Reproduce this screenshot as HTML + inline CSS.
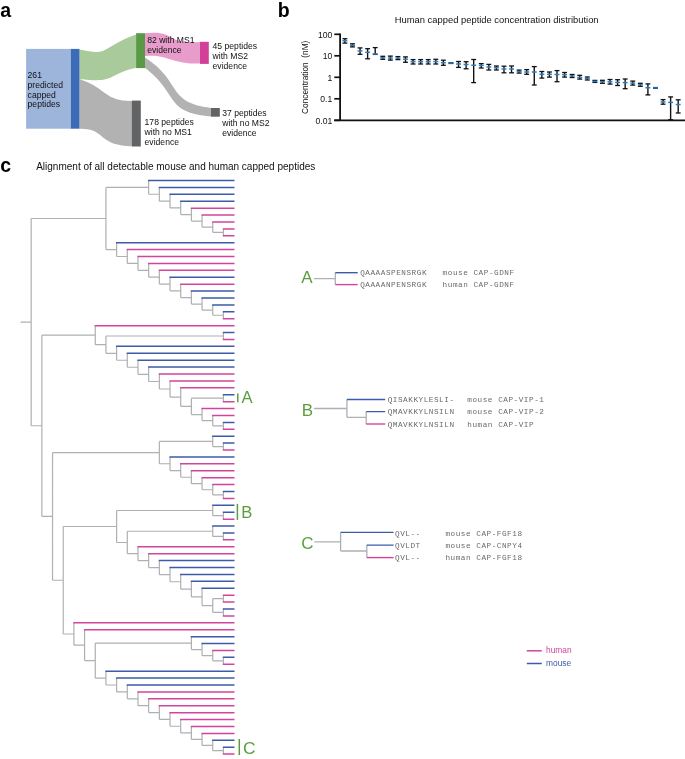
<!DOCTYPE html>
<html><head><meta charset="utf-8"><title>figure</title>
<style>
html,body{margin:0;padding:0;background:#fff;}
body{width:685px;height:759px;overflow:hidden;}
svg{display:block;font-family:"Liberation Sans", sans-serif;will-change:transform;opacity:0.999;}
</style></head><body>
<svg width="685" height="759" viewBox="0 0 685 759">
<rect width="685" height="759" fill="#fff"/>
<path d="M79.5,49.6 C110.54,56.53 99.9,47.54 136.2,34.5 L136.2,67.8 C106.85,74.29 116.16,83.81 79.5,78.9 Z" fill="#a9cb9b"/>
<path d="M79.5,78.9 C108.42,89.11 103.82,100.72 132.0,100.9 L132.0,146.3 C96.33,145.44 106.49,128.19 79.5,128.8 Z" fill="#b1b2b1"/>
<path d="M144.9,33.3 C176.76,29.6 163.19,44.02 200.1,42 L200.1,63.6 C170.99,63.93 166.18,53.58 144.9,56.0 Z" fill="#e89ccb"/>
<path d="M144.9,57.6 C182.55,81.7 166.0,102.66 211.1,108 L211.1,116.6 C163.72,112.1 179.74,94.62 144.9,67.8 Z" fill="#b1b2b1"/>
<rect x="26.1" y="48.9" width="44.70" height="79.80" fill="#9db4db"/>
<rect x="70.8" y="48.9" width="8.70" height="79.80" fill="#3b6cb5"/>
<rect x="136.1" y="33.2" width="8.90" height="34.90" fill="#5a9a45"/>
<rect x="200.0" y="41.8" width="8.80" height="22.10" fill="#d2409a"/>
<rect x="131.9" y="100.6" width="8.90" height="45.90" fill="#626365"/>
<rect x="211.0" y="108.0" width="8.80" height="8.70" fill="#626365"/>
<text x="27.6" y="77.6" font-size="8.6" fill="#111"><tspan x="27.6" y="77.60">261</tspan><tspan x="27.6" y="87.55">predicted</tspan><tspan x="27.6" y="97.50">capped</tspan><tspan x="27.6" y="107.45">peptides</tspan></text>
<text x="147.2" y="42.6" font-size="8.6" fill="#111"><tspan x="147.2" y="42.60">82 with MS1</tspan><tspan x="147.2" y="52.60">evidence</tspan></text>
<text x="212.6" y="48.6" font-size="8.6" fill="#111"><tspan x="212.6" y="48.60">45 peptides</tspan><tspan x="212.6" y="58.80">with MS2</tspan><tspan x="212.6" y="69.00">evidence</tspan></text>
<text x="144.6" y="125.0" font-size="8.6" fill="#111"><tspan x="144.6" y="125.00">178 peptides</tspan><tspan x="144.6" y="135.20">with no MS1</tspan><tspan x="144.6" y="145.40">evidence</tspan></text>
<text x="222.2" y="115.6" font-size="8.6" fill="#111"><tspan x="222.2" y="115.60">37 peptides</tspan><tspan x="222.2" y="125.80">with no MS2</tspan><tspan x="222.2" y="136.00">evidence</tspan></text>
<text x="0.2" y="16.6" font-size="19.5" font-weight="bold" fill="#000">a</text>
<text x="277.8" y="16.6" font-size="19.5" font-weight="bold" fill="#000">b</text>
<text x="0.2" y="171.8" font-size="19.5" font-weight="bold" fill="#000">c</text>
<text x="496.7" y="23.3" font-size="9.4" text-anchor="middle" fill="#111">Human capped peptide concentration distribution</text>
<line x1="334.3" y1="34.3" x2="340.1" y2="34.3" stroke="#111" stroke-width="1.7"/>
<text x="332.3" y="37.70" font-size="8.6" text-anchor="end" fill="#111">100</text>
<line x1="334.3" y1="55.8" x2="340.1" y2="55.8" stroke="#111" stroke-width="1.7"/>
<text x="332.3" y="59.20" font-size="8.6" text-anchor="end" fill="#111">10</text>
<line x1="334.3" y1="77.3" x2="340.1" y2="77.3" stroke="#111" stroke-width="1.7"/>
<text x="332.3" y="80.70" font-size="8.6" text-anchor="end" fill="#111">1</text>
<line x1="334.3" y1="98.8" x2="340.1" y2="98.8" stroke="#111" stroke-width="1.7"/>
<text x="332.3" y="102.20" font-size="8.6" text-anchor="end" fill="#111">0.1</text>
<line x1="334.3" y1="120.3" x2="340.1" y2="120.3" stroke="#111" stroke-width="1.7"/>
<text x="332.3" y="123.70" font-size="8.6" text-anchor="end" fill="#111">0.01</text>
<line x1="340.1" y1="33.5" x2="340.1" y2="121" stroke="#111" stroke-width="1.8"/>
<line x1="334.3" y1="120.3" x2="685" y2="120.3" stroke="#111" stroke-width="1.8"/>
<text transform="translate(307.9,77.3) rotate(-90)" font-size="8.3" text-anchor="middle" fill="#111">Concentration&#160; (nM)</text>
<line x1="344.90" y1="38.7" x2="344.90" y2="43.1" stroke="#111" stroke-width="1.4"/>
<line x1="342.45" y1="38.7" x2="347.35" y2="38.7" stroke="#111" stroke-width="1.3"/>
<line x1="342.45" y1="43.1" x2="347.35" y2="43.1" stroke="#111" stroke-width="1.3"/>
<line x1="342.45" y1="40.7" x2="347.35" y2="40.7" stroke="#2a7dc4" stroke-width="1.5"/>
<line x1="352.47" y1="43.8" x2="352.47" y2="46.9" stroke="#111" stroke-width="1.4"/>
<line x1="350.02" y1="43.8" x2="354.92" y2="43.8" stroke="#111" stroke-width="1.3"/>
<line x1="350.02" y1="46.9" x2="354.92" y2="46.9" stroke="#111" stroke-width="1.3"/>
<line x1="350.02" y1="45.3" x2="354.92" y2="45.3" stroke="#2a7dc4" stroke-width="1.5"/>
<line x1="360.05" y1="47.9" x2="360.05" y2="54.3" stroke="#111" stroke-width="1.4"/>
<line x1="357.60" y1="47.9" x2="362.50" y2="47.9" stroke="#111" stroke-width="1.3"/>
<line x1="357.60" y1="54.3" x2="362.50" y2="54.3" stroke="#111" stroke-width="1.3"/>
<line x1="357.60" y1="50.9" x2="362.50" y2="50.9" stroke="#2a7dc4" stroke-width="1.5"/>
<line x1="367.62" y1="48.7" x2="367.62" y2="58.8" stroke="#111" stroke-width="1.4"/>
<line x1="365.18" y1="48.7" x2="370.07" y2="48.7" stroke="#111" stroke-width="1.3"/>
<line x1="365.18" y1="58.8" x2="370.07" y2="58.8" stroke="#111" stroke-width="1.3"/>
<line x1="365.18" y1="52.3" x2="370.07" y2="52.3" stroke="#2a7dc4" stroke-width="1.5"/>
<line x1="375.20" y1="47.6" x2="375.20" y2="54.4" stroke="#111" stroke-width="1.4"/>
<line x1="372.75" y1="47.6" x2="377.65" y2="47.6" stroke="#111" stroke-width="1.3"/>
<line x1="372.75" y1="54.4" x2="377.65" y2="54.4" stroke="#111" stroke-width="1.3"/>
<line x1="372.75" y1="54.0" x2="377.65" y2="54.0" stroke="#2a7dc4" stroke-width="1.5"/>
<line x1="382.77" y1="56.3" x2="382.77" y2="59.3" stroke="#111" stroke-width="1.4"/>
<line x1="380.32" y1="56.3" x2="385.22" y2="56.3" stroke="#111" stroke-width="1.3"/>
<line x1="380.32" y1="59.3" x2="385.22" y2="59.3" stroke="#111" stroke-width="1.3"/>
<line x1="380.32" y1="57.8" x2="385.22" y2="57.8" stroke="#2a7dc4" stroke-width="1.5"/>
<line x1="390.35" y1="56.1" x2="390.35" y2="60.1" stroke="#111" stroke-width="1.4"/>
<line x1="387.90" y1="56.1" x2="392.80" y2="56.1" stroke="#111" stroke-width="1.3"/>
<line x1="387.90" y1="60.1" x2="392.80" y2="60.1" stroke="#111" stroke-width="1.3"/>
<line x1="387.90" y1="58.1" x2="392.80" y2="58.1" stroke="#2a7dc4" stroke-width="1.5"/>
<line x1="397.92" y1="56.6" x2="397.92" y2="59.6" stroke="#111" stroke-width="1.4"/>
<line x1="395.47" y1="56.6" x2="400.37" y2="56.6" stroke="#111" stroke-width="1.3"/>
<line x1="395.47" y1="59.6" x2="400.37" y2="59.6" stroke="#111" stroke-width="1.3"/>
<line x1="395.47" y1="58.1" x2="400.37" y2="58.1" stroke="#2a7dc4" stroke-width="1.5"/>
<line x1="405.50" y1="56.9" x2="405.50" y2="62.3" stroke="#111" stroke-width="1.4"/>
<line x1="403.05" y1="56.9" x2="407.95" y2="56.9" stroke="#111" stroke-width="1.3"/>
<line x1="403.05" y1="62.3" x2="407.95" y2="62.3" stroke="#111" stroke-width="1.3"/>
<line x1="403.05" y1="59.2" x2="407.95" y2="59.2" stroke="#2a7dc4" stroke-width="1.5"/>
<line x1="413.07" y1="59.6" x2="413.07" y2="64.0" stroke="#111" stroke-width="1.4"/>
<line x1="410.62" y1="59.6" x2="415.52" y2="59.6" stroke="#111" stroke-width="1.3"/>
<line x1="410.62" y1="64.0" x2="415.52" y2="64.0" stroke="#111" stroke-width="1.3"/>
<line x1="410.62" y1="61.7" x2="415.52" y2="61.7" stroke="#2a7dc4" stroke-width="1.5"/>
<line x1="420.65" y1="59.6" x2="420.65" y2="64.0" stroke="#111" stroke-width="1.4"/>
<line x1="418.20" y1="59.6" x2="423.10" y2="59.6" stroke="#111" stroke-width="1.3"/>
<line x1="418.20" y1="64.0" x2="423.10" y2="64.0" stroke="#111" stroke-width="1.3"/>
<line x1="418.20" y1="61.7" x2="423.10" y2="61.7" stroke="#2a7dc4" stroke-width="1.5"/>
<line x1="428.22" y1="59.6" x2="428.22" y2="64.0" stroke="#111" stroke-width="1.4"/>
<line x1="425.77" y1="59.6" x2="430.67" y2="59.6" stroke="#111" stroke-width="1.3"/>
<line x1="425.77" y1="64.0" x2="430.67" y2="64.0" stroke="#111" stroke-width="1.3"/>
<line x1="425.77" y1="61.7" x2="430.67" y2="61.7" stroke="#2a7dc4" stroke-width="1.5"/>
<line x1="435.80" y1="59.3" x2="435.80" y2="64.0" stroke="#111" stroke-width="1.4"/>
<line x1="433.35" y1="59.3" x2="438.25" y2="59.3" stroke="#111" stroke-width="1.3"/>
<line x1="433.35" y1="64.0" x2="438.25" y2="64.0" stroke="#111" stroke-width="1.3"/>
<line x1="433.35" y1="61.5" x2="438.25" y2="61.5" stroke="#2a7dc4" stroke-width="1.5"/>
<line x1="443.38" y1="60.2" x2="443.38" y2="65.3" stroke="#111" stroke-width="1.4"/>
<line x1="440.93" y1="60.2" x2="445.82" y2="60.2" stroke="#111" stroke-width="1.3"/>
<line x1="440.93" y1="65.3" x2="445.82" y2="65.3" stroke="#111" stroke-width="1.3"/>
<line x1="440.93" y1="62.7" x2="445.82" y2="62.7" stroke="#2a7dc4" stroke-width="1.5"/>
<line x1="448.50" y1="63.1" x2="453.40" y2="63.1" stroke="#111" stroke-width="2.0"/>
<line x1="448.50" y1="63.1" x2="453.40" y2="63.1" stroke="#2a7dc4" stroke-width="1.5"/>
<line x1="458.52" y1="61.5" x2="458.52" y2="67.4" stroke="#111" stroke-width="1.4"/>
<line x1="456.07" y1="61.5" x2="460.97" y2="61.5" stroke="#111" stroke-width="1.3"/>
<line x1="456.07" y1="67.4" x2="460.97" y2="67.4" stroke="#111" stroke-width="1.3"/>
<line x1="456.07" y1="64.0" x2="460.97" y2="64.0" stroke="#2a7dc4" stroke-width="1.5"/>
<line x1="466.10" y1="61.7" x2="466.10" y2="68.8" stroke="#111" stroke-width="1.4"/>
<line x1="463.65" y1="61.7" x2="468.55" y2="61.7" stroke="#111" stroke-width="1.3"/>
<line x1="463.65" y1="68.8" x2="468.55" y2="68.8" stroke="#111" stroke-width="1.3"/>
<line x1="463.65" y1="64.5" x2="468.55" y2="64.5" stroke="#2a7dc4" stroke-width="1.5"/>
<line x1="473.67" y1="59.5" x2="473.67" y2="82.6" stroke="#111" stroke-width="1.4"/>
<line x1="471.22" y1="59.5" x2="476.12" y2="59.5" stroke="#111" stroke-width="1.3"/>
<line x1="471.22" y1="82.6" x2="476.12" y2="82.6" stroke="#111" stroke-width="1.3"/>
<line x1="471.22" y1="65.2" x2="476.12" y2="65.2" stroke="#2a7dc4" stroke-width="1.5"/>
<line x1="481.25" y1="63.6" x2="481.25" y2="68.0" stroke="#111" stroke-width="1.4"/>
<line x1="478.80" y1="63.6" x2="483.70" y2="63.6" stroke="#111" stroke-width="1.3"/>
<line x1="478.80" y1="68.0" x2="483.70" y2="68.0" stroke="#111" stroke-width="1.3"/>
<line x1="478.80" y1="65.4" x2="483.70" y2="65.4" stroke="#2a7dc4" stroke-width="1.5"/>
<line x1="488.82" y1="64.4" x2="488.82" y2="70.0" stroke="#111" stroke-width="1.4"/>
<line x1="486.38" y1="64.4" x2="491.27" y2="64.4" stroke="#111" stroke-width="1.3"/>
<line x1="486.38" y1="70.0" x2="491.27" y2="70.0" stroke="#111" stroke-width="1.3"/>
<line x1="486.38" y1="67.0" x2="491.27" y2="67.0" stroke="#2a7dc4" stroke-width="1.5"/>
<line x1="496.40" y1="66.0" x2="496.40" y2="70.0" stroke="#111" stroke-width="1.4"/>
<line x1="493.95" y1="66.0" x2="498.85" y2="66.0" stroke="#111" stroke-width="1.3"/>
<line x1="493.95" y1="70.0" x2="498.85" y2="70.0" stroke="#111" stroke-width="1.3"/>
<line x1="493.95" y1="67.7" x2="498.85" y2="67.7" stroke="#2a7dc4" stroke-width="1.5"/>
<line x1="503.98" y1="66.2" x2="503.98" y2="72.8" stroke="#111" stroke-width="1.4"/>
<line x1="501.53" y1="66.2" x2="506.43" y2="66.2" stroke="#111" stroke-width="1.3"/>
<line x1="501.53" y1="72.8" x2="506.43" y2="72.8" stroke="#111" stroke-width="1.3"/>
<line x1="501.53" y1="69.0" x2="506.43" y2="69.0" stroke="#2a7dc4" stroke-width="1.5"/>
<line x1="511.55" y1="66.0" x2="511.55" y2="72.8" stroke="#111" stroke-width="1.4"/>
<line x1="509.10" y1="66.0" x2="514.00" y2="66.0" stroke="#111" stroke-width="1.3"/>
<line x1="509.10" y1="72.8" x2="514.00" y2="72.8" stroke="#111" stroke-width="1.3"/>
<line x1="509.10" y1="69.0" x2="514.00" y2="69.0" stroke="#2a7dc4" stroke-width="1.5"/>
<line x1="519.12" y1="70.1" x2="519.12" y2="73.1" stroke="#111" stroke-width="1.4"/>
<line x1="516.67" y1="70.1" x2="521.58" y2="70.1" stroke="#111" stroke-width="1.3"/>
<line x1="516.67" y1="73.1" x2="521.58" y2="73.1" stroke="#111" stroke-width="1.3"/>
<line x1="516.67" y1="71.6" x2="521.58" y2="71.6" stroke="#2a7dc4" stroke-width="1.5"/>
<line x1="526.70" y1="69.6" x2="526.70" y2="74.3" stroke="#111" stroke-width="1.4"/>
<line x1="524.25" y1="69.6" x2="529.15" y2="69.6" stroke="#111" stroke-width="1.3"/>
<line x1="524.25" y1="74.3" x2="529.15" y2="74.3" stroke="#111" stroke-width="1.3"/>
<line x1="524.25" y1="72.0" x2="529.15" y2="72.0" stroke="#2a7dc4" stroke-width="1.5"/>
<line x1="534.27" y1="66.6" x2="534.27" y2="85.0" stroke="#111" stroke-width="1.4"/>
<line x1="531.82" y1="66.6" x2="536.73" y2="66.6" stroke="#111" stroke-width="1.3"/>
<line x1="531.82" y1="85.0" x2="536.73" y2="85.0" stroke="#111" stroke-width="1.3"/>
<line x1="531.82" y1="72.0" x2="536.73" y2="72.0" stroke="#2a7dc4" stroke-width="1.5"/>
<line x1="541.85" y1="71.5" x2="541.85" y2="78.1" stroke="#111" stroke-width="1.4"/>
<line x1="539.40" y1="71.5" x2="544.30" y2="71.5" stroke="#111" stroke-width="1.3"/>
<line x1="539.40" y1="78.1" x2="544.30" y2="78.1" stroke="#111" stroke-width="1.3"/>
<line x1="539.40" y1="74.3" x2="544.30" y2="74.3" stroke="#2a7dc4" stroke-width="1.5"/>
<line x1="549.42" y1="72.0" x2="549.42" y2="77.1" stroke="#111" stroke-width="1.4"/>
<line x1="546.97" y1="72.0" x2="551.88" y2="72.0" stroke="#111" stroke-width="1.3"/>
<line x1="546.97" y1="77.1" x2="551.88" y2="77.1" stroke="#111" stroke-width="1.3"/>
<line x1="546.97" y1="74.3" x2="551.88" y2="74.3" stroke="#2a7dc4" stroke-width="1.5"/>
<line x1="557.00" y1="70.6" x2="557.00" y2="81.7" stroke="#111" stroke-width="1.4"/>
<line x1="554.55" y1="70.6" x2="559.45" y2="70.6" stroke="#111" stroke-width="1.3"/>
<line x1="554.55" y1="81.7" x2="559.45" y2="81.7" stroke="#111" stroke-width="1.3"/>
<line x1="554.55" y1="74.5" x2="559.45" y2="74.5" stroke="#2a7dc4" stroke-width="1.5"/>
<line x1="564.58" y1="72.5" x2="564.58" y2="77.1" stroke="#111" stroke-width="1.4"/>
<line x1="562.12" y1="72.5" x2="567.03" y2="72.5" stroke="#111" stroke-width="1.3"/>
<line x1="562.12" y1="77.1" x2="567.03" y2="77.1" stroke="#111" stroke-width="1.3"/>
<line x1="562.12" y1="74.7" x2="567.03" y2="74.7" stroke="#2a7dc4" stroke-width="1.5"/>
<line x1="572.15" y1="74.5" x2="572.15" y2="77.5" stroke="#111" stroke-width="1.4"/>
<line x1="569.70" y1="74.5" x2="574.60" y2="74.5" stroke="#111" stroke-width="1.3"/>
<line x1="569.70" y1="77.5" x2="574.60" y2="77.5" stroke="#111" stroke-width="1.3"/>
<line x1="569.70" y1="76.0" x2="574.60" y2="76.0" stroke="#2a7dc4" stroke-width="1.5"/>
<line x1="579.73" y1="75.3" x2="579.73" y2="79.1" stroke="#111" stroke-width="1.4"/>
<line x1="577.27" y1="75.3" x2="582.18" y2="75.3" stroke="#111" stroke-width="1.3"/>
<line x1="577.27" y1="79.1" x2="582.18" y2="79.1" stroke="#111" stroke-width="1.3"/>
<line x1="577.27" y1="77.4" x2="582.18" y2="77.4" stroke="#2a7dc4" stroke-width="1.5"/>
<line x1="587.30" y1="77.0" x2="587.30" y2="80.0" stroke="#111" stroke-width="1.4"/>
<line x1="584.85" y1="77.0" x2="589.75" y2="77.0" stroke="#111" stroke-width="1.3"/>
<line x1="584.85" y1="80.0" x2="589.75" y2="80.0" stroke="#111" stroke-width="1.3"/>
<line x1="584.85" y1="78.5" x2="589.75" y2="78.5" stroke="#2a7dc4" stroke-width="1.5"/>
<line x1="594.88" y1="80.4" x2="594.88" y2="82.4" stroke="#111" stroke-width="1.4"/>
<line x1="592.42" y1="80.4" x2="597.33" y2="80.4" stroke="#111" stroke-width="1.3"/>
<line x1="592.42" y1="82.4" x2="597.33" y2="82.4" stroke="#111" stroke-width="1.3"/>
<line x1="592.42" y1="81.4" x2="597.33" y2="81.4" stroke="#2a7dc4" stroke-width="1.5"/>
<line x1="602.45" y1="80.3" x2="602.45" y2="83.3" stroke="#111" stroke-width="1.4"/>
<line x1="600.00" y1="80.3" x2="604.90" y2="80.3" stroke="#111" stroke-width="1.3"/>
<line x1="600.00" y1="83.3" x2="604.90" y2="83.3" stroke="#111" stroke-width="1.3"/>
<line x1="600.00" y1="81.8" x2="604.90" y2="81.8" stroke="#2a7dc4" stroke-width="1.5"/>
<line x1="610.02" y1="79.5" x2="610.02" y2="84.1" stroke="#111" stroke-width="1.4"/>
<line x1="607.57" y1="79.5" x2="612.48" y2="79.5" stroke="#111" stroke-width="1.3"/>
<line x1="607.57" y1="84.1" x2="612.48" y2="84.1" stroke="#111" stroke-width="1.3"/>
<line x1="607.57" y1="81.8" x2="612.48" y2="81.8" stroke="#2a7dc4" stroke-width="1.5"/>
<line x1="617.60" y1="79.7" x2="617.60" y2="85.5" stroke="#111" stroke-width="1.4"/>
<line x1="615.15" y1="79.7" x2="620.05" y2="79.7" stroke="#111" stroke-width="1.3"/>
<line x1="615.15" y1="85.5" x2="620.05" y2="85.5" stroke="#111" stroke-width="1.3"/>
<line x1="615.15" y1="82.4" x2="620.05" y2="82.4" stroke="#2a7dc4" stroke-width="1.5"/>
<line x1="625.17" y1="79.0" x2="625.17" y2="88.7" stroke="#111" stroke-width="1.4"/>
<line x1="622.72" y1="79.0" x2="627.62" y2="79.0" stroke="#111" stroke-width="1.3"/>
<line x1="622.72" y1="88.7" x2="627.62" y2="88.7" stroke="#111" stroke-width="1.3"/>
<line x1="622.72" y1="82.6" x2="627.62" y2="82.6" stroke="#2a7dc4" stroke-width="1.5"/>
<line x1="632.75" y1="81.1" x2="632.75" y2="85.1" stroke="#111" stroke-width="1.4"/>
<line x1="630.30" y1="81.1" x2="635.20" y2="81.1" stroke="#111" stroke-width="1.3"/>
<line x1="630.30" y1="85.1" x2="635.20" y2="85.1" stroke="#111" stroke-width="1.3"/>
<line x1="630.30" y1="83.1" x2="635.20" y2="83.1" stroke="#2a7dc4" stroke-width="1.5"/>
<line x1="640.33" y1="83.3" x2="640.33" y2="86.3" stroke="#111" stroke-width="1.4"/>
<line x1="637.88" y1="83.3" x2="642.78" y2="83.3" stroke="#111" stroke-width="1.3"/>
<line x1="637.88" y1="86.3" x2="642.78" y2="86.3" stroke="#111" stroke-width="1.3"/>
<line x1="637.88" y1="84.8" x2="642.78" y2="84.8" stroke="#2a7dc4" stroke-width="1.5"/>
<line x1="647.90" y1="83.9" x2="647.90" y2="94.9" stroke="#111" stroke-width="1.4"/>
<line x1="645.45" y1="83.9" x2="650.35" y2="83.9" stroke="#111" stroke-width="1.3"/>
<line x1="645.45" y1="94.9" x2="650.35" y2="94.9" stroke="#111" stroke-width="1.3"/>
<line x1="645.45" y1="87.7" x2="650.35" y2="87.7" stroke="#2a7dc4" stroke-width="1.5"/>
<line x1="653.02" y1="87.9" x2="657.92" y2="87.9" stroke="#111" stroke-width="2.0"/>
<line x1="653.02" y1="87.9" x2="657.92" y2="87.9" stroke="#2a7dc4" stroke-width="1.5"/>
<line x1="663.05" y1="99.6" x2="663.05" y2="104.2" stroke="#111" stroke-width="1.4"/>
<line x1="660.60" y1="99.6" x2="665.50" y2="99.6" stroke="#111" stroke-width="1.3"/>
<line x1="660.60" y1="104.2" x2="665.50" y2="104.2" stroke="#111" stroke-width="1.3"/>
<line x1="660.60" y1="101.9" x2="665.50" y2="101.9" stroke="#2a7dc4" stroke-width="1.5"/>
<line x1="670.62" y1="96.9" x2="670.62" y2="119.7" stroke="#111" stroke-width="1.4"/>
<line x1="668.17" y1="96.9" x2="673.08" y2="96.9" stroke="#111" stroke-width="1.3"/>
<line x1="668.17" y1="119.7" x2="673.08" y2="119.7" stroke="#111" stroke-width="1.3"/>
<line x1="668.17" y1="102.4" x2="673.08" y2="102.4" stroke="#2a7dc4" stroke-width="1.5"/>
<line x1="678.20" y1="99.8" x2="678.20" y2="113.0" stroke="#111" stroke-width="1.4"/>
<line x1="675.75" y1="99.8" x2="680.65" y2="99.8" stroke="#111" stroke-width="1.3"/>
<line x1="675.75" y1="113.0" x2="680.65" y2="113.0" stroke="#111" stroke-width="1.3"/>
<line x1="675.75" y1="104.5" x2="680.65" y2="104.5" stroke="#2a7dc4" stroke-width="1.5"/>
<text x="36.2" y="169.6" font-size="10" fill="#111">Alignment of all detectable mouse and human capped peptides</text>
<path d="M223.42,228.88V235.79M212.74,221.97V232.33M212.74,232.33H223.42M202.06,215.06V227.15M202.06,227.15H212.74M191.38,208.14V221.10M191.38,221.10H202.06M180.70,201.23V214.62M180.70,214.62H191.38M170.02,194.32V207.93M170.02,207.93H180.70M159.34,187.41V201.13M159.34,201.13H170.02M148.66,180.50V194.27M148.66,194.27H159.34M223.42,311.81V318.72M212.74,304.90V315.26M212.74,315.26H223.42M202.06,297.99V310.08M202.06,310.08H212.74M191.38,291.08V304.03M191.38,304.03H202.06M180.70,284.16V297.56M180.70,297.56H191.38M170.02,277.25V290.86M170.02,290.86H180.70M159.34,270.34V284.06M159.34,284.06H170.02M148.66,263.43V277.20M148.66,277.20H159.34M137.98,256.52V270.32M137.98,270.32H148.66M127.30,249.61V263.42M127.30,263.42H137.98M116.62,242.70V256.51M116.62,256.51H127.30M105.94,187.38V249.61M105.94,187.38H148.66M105.94,249.61H116.62M223.42,332.54V339.45M223.42,394.74V401.65M223.42,422.38V429.30M212.74,415.47V425.84M212.74,425.84H223.42M202.06,408.56V420.66M202.06,420.66H212.74M191.38,398.20V414.61M191.38,398.20H223.42M191.38,414.61H202.06M180.70,387.83V406.40M180.70,406.40H191.38M170.02,380.92V397.12M170.02,397.12H180.70M159.34,374.01V389.02M159.34,389.02H170.02M148.66,367.10V381.51M148.66,381.51H159.34M137.98,360.19V374.30M137.98,374.30H148.66M127.30,353.27V367.25M127.30,367.25H137.98M116.62,346.36V360.26M116.62,360.26H127.30M105.94,336.00V353.31M105.94,336.00H223.42M105.94,353.31H116.62M95.26,325.63V344.65M95.26,344.65H105.94M223.42,443.12V450.03M212.74,436.21V446.57M212.74,446.57H223.42M223.42,491.50V498.41M212.74,484.58V494.95M212.74,494.95H223.42M202.06,477.67V489.77M202.06,489.77H212.74M191.38,470.76V483.72M191.38,483.72H202.06M180.70,463.85V477.24M180.70,477.24H191.38M170.02,456.94V470.55M170.02,470.55H180.70M159.34,441.39V463.74M159.34,441.39H212.74M159.34,463.74H170.02M223.42,512.23V519.14M212.74,505.32V515.68M212.74,515.68H223.42M223.42,532.96V539.87M212.74,526.05V536.42M212.74,536.42H223.42M223.42,595.16V602.07M223.42,608.98V615.89M212.74,598.62V612.44M212.74,598.62H223.42M212.74,612.44H223.42M202.06,588.25V605.53M202.06,605.53H212.74M191.38,581.34V596.89M191.38,596.89H202.06M180.70,574.43V589.11M180.70,589.11H191.38M170.02,567.52V581.77M170.02,581.77H180.70M159.34,560.61V574.64M159.34,574.64H170.02M148.66,553.69V567.62M148.66,567.62H159.34M137.98,546.78V560.66M137.98,560.66H148.66M127.30,531.23V553.72M127.30,531.23H212.74M127.30,553.72H137.98M116.62,510.50V542.48M116.62,510.50H212.74M116.62,542.48H127.30M223.42,657.36V664.27M212.74,650.45V660.81M212.74,660.81H223.42M202.06,643.54V655.63M202.06,655.63H212.74M191.38,636.63V649.58M191.38,649.58H202.06M223.42,747.20V754.11M212.74,740.29V750.66M212.74,750.66H223.42M202.06,733.38V745.47M202.06,745.47H212.74M191.38,726.47V739.43M191.38,739.43H202.06M180.70,719.56V732.95M180.70,732.95H191.38M170.02,712.65V726.25M170.02,726.25H180.70M159.34,705.74V719.45M159.34,719.45H170.02M148.66,698.82V712.59M148.66,712.59H159.34M137.98,691.91V705.71M137.98,705.71H148.66M127.30,685.00V698.81M127.30,698.81H137.98M116.62,678.09V691.91M116.62,691.91H127.30M105.94,671.18V685.00M105.94,685.00H116.62M95.26,643.11V678.09M95.26,643.11H191.38M95.26,678.09H105.94M84.58,629.71V660.60M84.58,660.60H95.26M73.90,622.80V645.16M73.90,645.16H84.58M63.22,526.49V633.98M63.22,526.49H116.62M63.22,633.98H73.90M52.54,452.57V580.23M52.54,452.57H159.34M52.54,580.23H63.22M41.86,335.14V516.40M41.86,335.14H95.26M41.86,516.40H52.54M31.18,218.50V425.77M31.18,218.50H105.94M31.18,425.77H41.86M20.50,322.13H31.18" stroke="#aeb0b3" stroke-width="1.2" fill="none"/>
<path d="M180.10,201.23H234.5M169.42,194.32H234.5M158.74,187.41H234.5M148.06,180.50H234.5M222.82,311.81H234.5M212.14,304.90H234.5M201.46,297.99H234.5M190.78,291.08H234.5M169.42,277.25H234.5M116.02,242.70H234.5M222.82,332.54H234.5M222.82,394.74H234.5M222.82,422.38H234.5M148.06,367.10H234.5M137.38,360.19H234.5M126.70,353.27H234.5M116.02,346.36H234.5M222.82,443.12H234.5M212.14,436.21H234.5M222.82,491.50H234.5M169.42,456.94H234.5M222.82,512.23H234.5M212.14,505.32H234.5M222.82,532.96H234.5M212.14,526.05H234.5M222.82,608.98H234.5M201.46,588.25H234.5M190.78,581.34H234.5M180.10,574.43H234.5M169.42,567.52H234.5M158.74,560.61H234.5M222.82,657.36H234.5M201.46,643.54H234.5M190.78,636.63H234.5M222.82,747.20H234.5M212.14,740.29H234.5M126.70,685.00H234.5M116.02,678.09H234.5M105.34,671.18H234.5" stroke="#3d5ba9" stroke-width="1.5" fill="none"/>
<path d="M222.82,228.88H234.5M222.82,235.79H234.5M212.14,221.97H234.5M201.46,215.06H234.5M190.78,208.14H234.5M222.82,318.72H234.5M180.10,284.16H234.5M158.74,270.34H234.5M148.06,263.43H234.5M137.38,256.52H234.5M126.70,249.61H234.5M222.82,339.45H234.5M222.82,401.65H234.5M222.82,429.30H234.5M212.14,415.47H234.5M201.46,408.56H234.5M180.10,387.83H234.5M169.42,380.92H234.5M158.74,374.01H234.5M94.66,325.63H234.5M222.82,450.03H234.5M222.82,498.41H234.5M212.14,484.58H234.5M201.46,477.67H234.5M190.78,470.76H234.5M180.10,463.85H234.5M222.82,519.14H234.5M222.82,539.87H234.5M222.82,595.16H234.5M222.82,602.07H234.5M222.82,615.89H234.5M148.06,553.69H234.5M137.38,546.78H234.5M222.82,664.27H234.5M212.14,650.45H234.5M222.82,754.11H234.5M201.46,733.38H234.5M190.78,726.47H234.5M180.10,719.56H234.5M169.42,712.65H234.5M158.74,705.74H234.5M148.06,698.82H234.5M137.38,691.91H234.5M83.98,629.71H234.5M73.30,622.80H234.5" stroke="#d4449c" stroke-width="1.5" fill="none"/>
<line x1="237.8" y1="393.5" x2="237.8" y2="402.2" stroke="#5a9e3c" stroke-width="1.5"/>
<text x="241.6" y="403.1" font-size="16.6" fill="#5a9e3c">A</text>
<line x1="237.4" y1="503.8" x2="237.4" y2="519.9" stroke="#5a9e3c" stroke-width="1.5"/>
<text x="241.2" y="517.9" font-size="16.6" fill="#5a9e3c">B</text>
<line x1="239.3" y1="739.0" x2="239.3" y2="755.1" stroke="#5a9e3c" stroke-width="1.5"/>
<text x="242.9" y="753.6" font-size="17.4" fill="#5a9e3c">C</text>
<text x="301.3" y="283.4" font-size="17" fill="#5a9e3c">A</text>
<path d="M314,278.7H335.3M335.3,272.7V284.6" stroke="#aeb0b3" stroke-width="1.3" fill="none"/>
<path d="M335.3,272.7H357.7" stroke="#3d5ba9" stroke-width="1.4"/>
<path d="M335.3,284.6H357.7" stroke="#d4449c" stroke-width="1.4"/>
<text x="360.2" y="275.35" font-family="Liberation Mono, monospace" font-size="7.7" letter-spacing="0.53" fill="#6a6a6a" xml:space="preserve">QAAAASPENSRGK</text>
<text x="360.2" y="287.45" font-family="Liberation Mono, monospace" font-size="7.7" letter-spacing="0.53" fill="#6a6a6a" xml:space="preserve">QAAAANPENSRGK</text>
<text x="442.6" y="275.35" font-family="Liberation Mono, monospace" font-size="7.7" letter-spacing="0.53" fill="#6a6a6a" xml:space="preserve">mouse CAP-GDNF</text>
<text x="442.6" y="287.45" font-family="Liberation Mono, monospace" font-size="7.7" letter-spacing="0.53" fill="#6a6a6a" xml:space="preserve">human CAP-GDNF</text>
<text x="301.8" y="415.8" font-size="17" fill="#5a9e3c">B</text>
<path d="M314.1,408.5H346.9M346.9,399.5V417.3M346.9,417.3H366.2M366.2,411.6V424" stroke="#aeb0b3" stroke-width="1.3" fill="none"/>
<path d="M346.9,399.5H385.2M366.2,411.6H385.2" stroke="#3d5ba9" stroke-width="1.4"/>
<path d="M366.2,424H385.2" stroke="#d4449c" stroke-width="1.4"/>
<text x="387.7" y="402.35" font-family="Liberation Mono, monospace" font-size="7.7" letter-spacing="0.53" fill="#6a6a6a" xml:space="preserve">QISAKKYLESLI-</text>
<text x="387.7" y="414.45" font-family="Liberation Mono, monospace" font-size="7.7" letter-spacing="0.53" fill="#6a6a6a" xml:space="preserve">QMAVKKYLNSILN</text>
<text x="387.7" y="426.75" font-family="Liberation Mono, monospace" font-size="7.7" letter-spacing="0.53" fill="#6a6a6a" xml:space="preserve">QMAVKKYLNSILN</text>
<text x="467.3" y="402.35" font-family="Liberation Mono, monospace" font-size="7.7" letter-spacing="0.53" fill="#6a6a6a" xml:space="preserve">mouse CAP-VIP-1</text>
<text x="467.3" y="414.45" font-family="Liberation Mono, monospace" font-size="7.7" letter-spacing="0.53" fill="#6a6a6a" xml:space="preserve">mouse CAP-VIP-2</text>
<text x="467.3" y="426.75" font-family="Liberation Mono, monospace" font-size="7.7" letter-spacing="0.53" fill="#6a6a6a" xml:space="preserve">human CAP-VIP</text>
<text x="301.2" y="549.4" font-size="17" fill="#5a9e3c">C</text>
<path d="M314.4,541.9H340.6M340.6,532.4V551M340.6,551H366.8M366.8,545.1V557.6" stroke="#aeb0b3" stroke-width="1.3" fill="none"/>
<path d="M340.6,532.4H393.6M366.8,545.1H393.6" stroke="#3d5ba9" stroke-width="1.4"/>
<path d="M366.8,557.6H393.6" stroke="#d4449c" stroke-width="1.4"/>
<text x="395.0" y="536.05" font-family="Liberation Mono, monospace" font-size="7.7" letter-spacing="0.53" fill="#6a6a6a" xml:space="preserve">QVL--</text>
<text x="395.0" y="548.15" font-family="Liberation Mono, monospace" font-size="7.7" letter-spacing="0.53" fill="#6a6a6a" xml:space="preserve">QVLDT</text>
<text x="395.0" y="560.45" font-family="Liberation Mono, monospace" font-size="7.7" letter-spacing="0.53" fill="#6a6a6a" xml:space="preserve">QVL--</text>
<text x="445.4" y="536.05" font-family="Liberation Mono, monospace" font-size="7.7" letter-spacing="0.53" fill="#6a6a6a" xml:space="preserve">mouse CAP-FGF18</text>
<text x="445.4" y="548.15" font-family="Liberation Mono, monospace" font-size="7.7" letter-spacing="0.53" fill="#6a6a6a" xml:space="preserve">mouse CAP-CNPY4</text>
<text x="445.4" y="560.45" font-family="Liberation Mono, monospace" font-size="7.7" letter-spacing="0.53" fill="#6a6a6a" xml:space="preserve">human CAP-FGF18</text>
<path d="M526.8,650.8H541.8" stroke="#d4449c" stroke-width="1.5"/>
<path d="M526.8,663.5H541.8" stroke="#3d5ba9" stroke-width="1.5"/>
<text x="546.0" y="653.2" font-size="8.4" fill="#d4449c">human</text>
<text x="546.0" y="665.9" font-size="8.4" fill="#3d5ba9">mouse</text>
</svg>
</body></html>
